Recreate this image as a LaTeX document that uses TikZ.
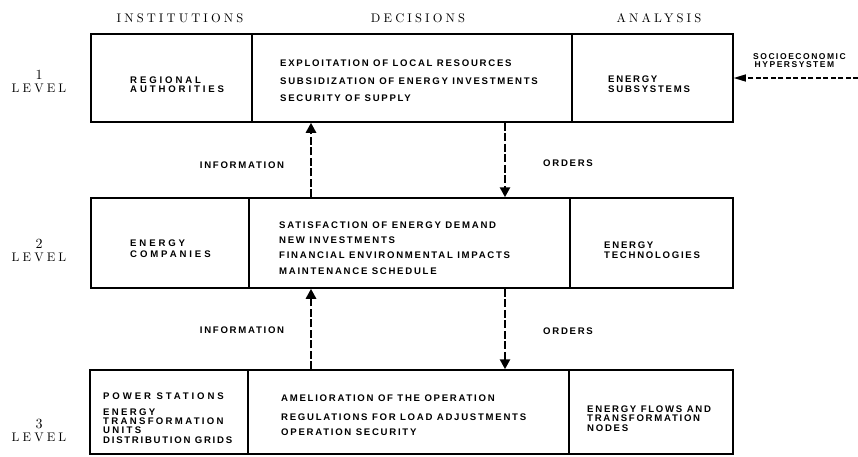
\documentclass[tikz,border=0pt]{standalone}
\usepackage{fontspec}
\usetikzlibrary{arrows.meta}
\newfontfamily\boxfont[LetterSpace=18]{Liberation Sans}
\newfontfamily\midfont[LetterSpace=24]{Liberation Sans}
\newfontfamily\instfont[LetterSpace=30]{Liberation Sans}
\newfontfamily\headfont[LetterSpace=25]{lmroman10-regular.otf}
\newcommand{\lvdigit}[1]{{\fontsize{14}{13}\selectfont #1}}
\tikzset{
  cell/.style={draw, line width=1.5pt, inner sep=0pt},
  bt/.style={font=\boxfont\bfseries\fontsize{9.6}{9.5}\selectfont, align=left, anchor=west, inner sep=0pt},
  it/.style={font=\instfont\bfseries\fontsize{9.6}{9.5}\selectfont, align=left, anchor=west, inner sep=0pt},
  smt/.style={font=\boxfont\bfseries\fontsize{8.5}{8}\selectfont, align=left, anchor=west, inner sep=0pt},
  hd/.style={font=\headfont\fontsize{12.5}{13}\selectfont, inner sep=0pt, align=center},
  flow/.style={line width=2.5pt, dash pattern=on 8pt off 2.5pt, -{Triangle[width=10pt,length=10pt]}},
  socio/.style={line width=1.3pt, dash pattern=on 5pt off 2.5pt, -{Triangle[width=7pt,length=12pt]}},
}
\begin{document}
\begin{tikzpicture}[x=1pt,y=-1pt]
\useasboundingbox (0,0) rectangle (858,456);
% headers
\node[hd] (h1) at (180,18) {INSTITUTIONS};
\node[hd] (h2) at (418,18) {DECISIONS};
\node[hd] (h3) at (659,18) {ANALYSIS};
% level labels
\node[hd] (l1) at (39,81.5) {\lvdigit{1}\\LEVEL};
\node[hd] (l2) at (39,250) {\lvdigit{2}\\LEVEL};
\node[hd] (l3) at (39,430) {\lvdigit{3}\\LEVEL};
% row 1
\node[cell, minimum width=161pt, minimum height=88pt] (i1) at (171.5,78) {};
\node[cell, minimum width=320pt, minimum height=88pt] (d1) at (412,78) {};
\node[cell, minimum width=161pt, minimum height=88pt] (a1) at (652.5,78) {};
% row 2
\node[cell, minimum width=158pt, minimum height=90pt] (i2) at (170,243) {};
\node[cell, minimum width=321pt, minimum height=90pt] (d2) at (409.5,243) {};
\node[cell, minimum width=163pt, minimum height=90pt] (a2) at (651.5,243) {};
% row 3
\node[cell, minimum width=158pt, minimum height=84pt] (i3) at (169,412) {};
\node[cell, minimum width=321pt, minimum height=84pt] (d3) at (408.5,412) {};
\node[cell, minimum width=164pt, minimum height=84pt] (a3) at (651,412) {};
% texts row 1
\node[it] (ti1) at (130,84.5) {REGIONAL\\AUTHORITIES};
\node[bt] (td1) at (280,80.5) {EXPLOITATION OF LOCAL RESOURCES\\[8.5pt]SUBSIDIZATION OF ENERGY INVESTMENTS\\[7.5pt]SECURITY OF SUPPLY};
\node[bt] (ta1) at (608,84) {ENERGY\\SUBSYSTEMS};
\node[smt] (soct) at (753,61) {SOCIOECONOMIC\\\hspace{1.5pt}HYPERSYSTEM};
% texts row 2
\node[it] (ti2) at (130,248.5) {ENERGY\\[1.5pt]COMPANIES};
\node[bt] (td2) at (279,248) {SATISFACTION OF ENERGY DEMAND\\[5.8pt]NEW INVESTMENTS\\[5.8pt]FINANCIAL ENVIRONMENTAL IMPACTS\\[5.8pt]MAINTENANCE SCHEDULE};
\node[bt] (ta2) at (604,250) {ENERGY\\[0.5pt]TECHNOLOGIES};
% texts row 3
\node[bt] (ti3) at (103,418) {{\instfont POWER STATIONS}\\[7pt]{\midfont ENERGY}\\[-0.5pt]{\midfont TRANSFORMATION}\\[-0.5pt]{\midfont UNITS}\\[0.5pt]DISTRIBUTION GRIDS};
\node[bt] (td3) at (281,415) {AMELIORATION OF THE OPERATION\\[9.5pt]REGULATIONS FOR LOAD ADJUSTMENTS\\[5.5pt]OPERATION SECURITY};
\node[bt] (ta3) at (587,418.5) {ENERGY FLOWS AND\\TRANSFORMATION\\NODES};
% connectors
\coordinate (ux) at (311,0);
\coordinate (dx) at (505,0);
\coordinate (sx) at (858,78);
\draw[flow] (d2.north -| ux) -- (d1.south -| ux);
\draw[flow] (d1.south -| dx) -- (d2.north -| dx);
\draw[flow] (d3.north -| ux) -- (d2.south -| ux);
\draw[flow] (d2.south -| dx) -- (d3.north -| dx);
\draw[socio] (sx) -- (a1.east |- sx);
% connector labels
\node[bt, anchor=center] (inf1) at (242,165) {INFORMATION};
\node[bt, anchor=center] (ord1) at (568,163) {ORDERS};
\node[bt, anchor=center] (inf2) at (242,330) {INFORMATION};
\node[bt, anchor=center] (ord2) at (568,331) {ORDERS};
\end{tikzpicture}
\end{document}
